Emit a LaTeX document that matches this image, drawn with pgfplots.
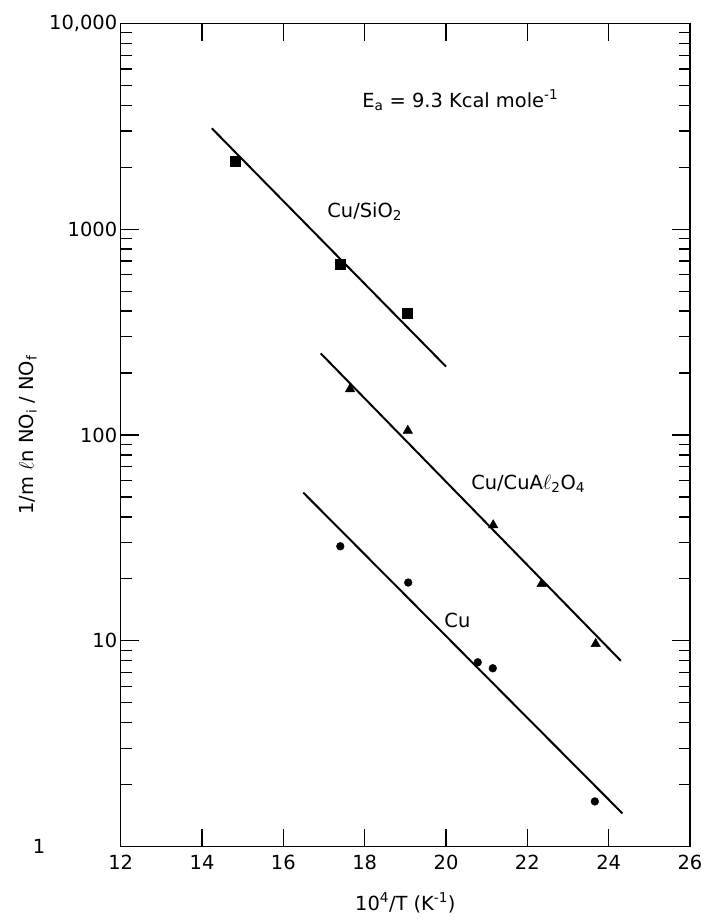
\documentclass[border=0pt]{standalone}
\usepackage{fontspec}
\setmainfont{DejaVu Sans}
\usepackage{pgfplots}
\pgfplotsset{compat=1.18}
\begin{document}
\begin{tikzpicture}
\begin{axis}[
  scale only axis, width=569.3bp, height=823.4bp,
  font=\fontsize{19.5}{23}\selectfont,
  xmin=12, xmax=26, ymode=log, ymin=1, ymax=10000,
  xtick={12,14,16,18,20,22,24,26},
  ytick={1,10,100,1000,10000},
  yticklabels={{\makebox[0pt][r]{1\hspace{72bp}}},10,100,1000,{10,000}},
  minor ytick={2,3,4,5,6,7,8,9,20,30,40,50,60,70,80,90,200,300,400,500,600,700,800,900,2000,3000,4000,5000,6000,7000,8000,9000},
  tick align=inside,
  major tick length=18bp, minor tick length=11bp,
  every tick/.style={black, line width=1.2bp},
  axis line style={line width=1.4bp},
  /pgf/number format/assume math mode=true,
  xticklabel style={yshift=-5bp},
  ylabel={1/m $\ell$n NO\textsubscript{i} / NO\textsubscript{f}},
  ylabel style={at={(axis description cs:-0.163,0.5)}, anchor=center},
  xlabel={10\textsuperscript{4}/T (K\textsuperscript{-1})},
  xlabel style={at={(axis description cs:0.5,-0.0684)}, anchor=center},
]
% Cu/SiO2
\addplot[only marks, mark=square*, mark size=5bp, black] coordinates {(14.81,2127) (17.39,677) (19.05,390)};
\addplot[black, line width=2bp, no marks] coordinates {(14.24,3090) (20.0,215)};
% Cu/CuAl2O4
\addplot[only marks, mark=triangle*, mark size=5.5bp, black] coordinates {(17.64,167) (19.06,105) (21.16,36.5) (22.35,18.9) (23.68,9.66)};
\addplot[black, line width=2bp, no marks] coordinates {(16.92,249) (24.3,8.0)};
% Cu
\addplot[only marks, mark=*, mark size=3.9bp, black] coordinates {(17.40,28.8) (19.07,19.2) (20.78,7.87) (21.15,7.36) (23.66,1.66)};
\addplot[black, line width=2bp, no marks] coordinates {(16.49,52.5) (24.34,1.45)};
\node at (axis cs:20.35,4236) {E\textsubscript{a} = 9.3 Kcal mole\textsuperscript{-1}};
\node at (axis cs:18.0,1216) {Cu/SiO\textsubscript{2}};
\node at (axis cs:22.02,58.2) {Cu/CuA$\ell$\textsubscript{2}O\textsubscript{4}};
\node at (axis cs:20.28,12.6) {Cu};
\end{axis}
\pgfresetboundingbox
\path[use as bounding box] ([xshift=-120.7bp,yshift=-73.3bp]current axis.south west) rectangle ([xshift=16bp,yshift=23.3bp]current axis.north east);
\end{tikzpicture}
\end{document}
